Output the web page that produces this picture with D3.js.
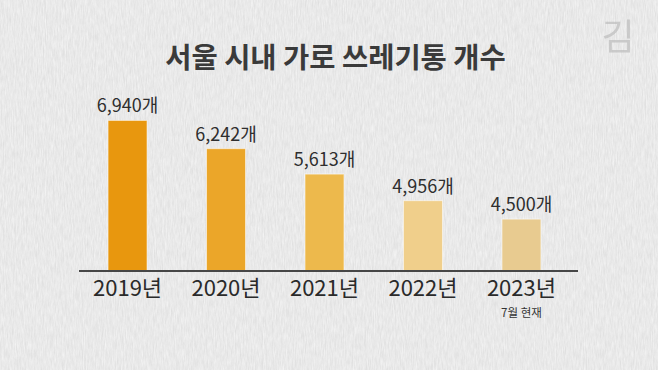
<!DOCTYPE html>
<html><head><meta charset="utf-8">
<script src="https://cdn.jsdelivr.net/npm/d3@7/dist/d3.min.js"></script>
<style>html,body{margin:0;padding:0;background:#e6e6e6;overflow:hidden}</style>
</head><body><svg id="c" width="658" height="370"></svg>
<script>
const title = "서울 시내 가로 쓰레기통 개수";
const categories = ["2019년", "2020년", "2021년", "2022년", "2023년"];
const values = [6940, 6242, 5613, 4956, 4500];
const valueLabels = ["6,940개", "6,242개", "5,613개", "4,956개", "4,500개"];
const notes = ["", "", "", "", "7월 현재"];
const colors = ["#e8970e", "#eba629", "#edb94c", "#f0cf8b", "#e8cb90"];

const svg = d3.select("#c");
const W = 658, H = 370;
const font = "'Noto Sans CJK KR','Noto Sans',sans-serif";

const defs = svg.append("defs");
const f = defs.append("filter").attr("id","paper").attr("x",0).attr("y",0).attr("width","100%").attr("height","100%");
f.append("feTurbulence").attr("type","fractalNoise").attr("baseFrequency","0.9 0.12").attr("numOctaves",3).attr("seed",4).attr("result","n");
f.append("feColorMatrix").attr("in","n").attr("type","matrix")
 .attr("values","0 0 0 0 1  0 0 0 0 1  0 0 0 0 1  0 0 0 -1.4 1.1").attr("result","w");
const f2 = defs.append("filter").attr("id","paper2").attr("x",0).attr("y",0).attr("width","100%").attr("height","100%");
f2.append("feTurbulence").attr("type","fractalNoise").attr("baseFrequency","0.6 0.08").attr("numOctaves",2).attr("seed",9).attr("result","n");
f2.append("feColorMatrix").attr("in","n").attr("type","matrix")
 .attr("values","0 0 0 0 0.55  0 0 0 0 0.55  0 0 0 0 0.55  0 0 0 -1.3 0.75");

svg.append("rect").attr("width",W).attr("height",H).attr("fill","#e4e4e4");
svg.append("rect").attr("width",W).attr("height",H).attr("filter","url(#paper)").attr("opacity",0.6);
svg.append("rect").attr("width",W).attr("height",H).attr("filter","url(#paper2)").attr("opacity",0.3);

const base = 271;
const x = d3.scaleBand().domain(categories).range([78.5, 570.5]).paddingInner(0.604).paddingOuter(0.3);
const y = d3.scaleLinear().domain([3217, 7000]).range([base, 118]);

svg.append("text").attr("x",335.5).attr("y",68).attr("text-anchor","middle")
  .attr("font-family",font).attr("font-weight",700).attr("font-size",28.5)
  .attr("fill","#3a3a3a").text(title);

const g = svg.append("g");
g.selectAll("rect.bar").data(values).join("rect").attr("class","bar")
  .attr("x",(d,i)=>x(categories[i])).attr("width",x.bandwidth())
  .attr("y",d=>y(d)).attr("height",d=>base-y(d))
  .attr("fill",(d,i)=>colors[i])
  .attr("stroke","rgba(255,255,255,0.55)").attr("stroke-width",1);

g.selectAll("text.val").data(values).join("text").attr("class","val")
  .attr("x",(d,i)=>x(categories[i])+x.bandwidth()/2).attr("y",d=>y(d)-8)
  .attr("text-anchor","middle").attr("font-family",font).attr("font-size",18)
  .attr("fill","#2e2e2e").text((d,i)=>valueLabels[i]);

const axis = d3.axisBottom(x).tickSize(0).tickPadding(9);
const ag = svg.append("g").attr("transform",`translate(0,${base})`).call(axis);
ag.select(".domain").attr("stroke","#474747").attr("stroke-width",2.2).attr("d","M79,0H578");
ag.selectAll(".tick text").attr("font-family",font).attr("font-size",22)
  .attr("fill","#2a2a2a").attr("dy","0.72em").attr("y",9);

g.selectAll("text.note").data(notes).join("text").attr("class","note")
  .attr("x",(d,i)=>x(categories[i])+x.bandwidth()/2).attr("y",317)
  .attr("text-anchor","middle").attr("font-family",font).attr("font-size",11.5)
  .attr("fill","#333").text(d=>d);

svg.append("text").attr("x",618).attr("y",50).attr("text-anchor","middle")
  .attr("font-family",font).attr("font-size",36).attr("font-weight",400)
  .attr("fill","#bdbdbd").attr("opacity",0.7).text("김");
</script></body></html>
